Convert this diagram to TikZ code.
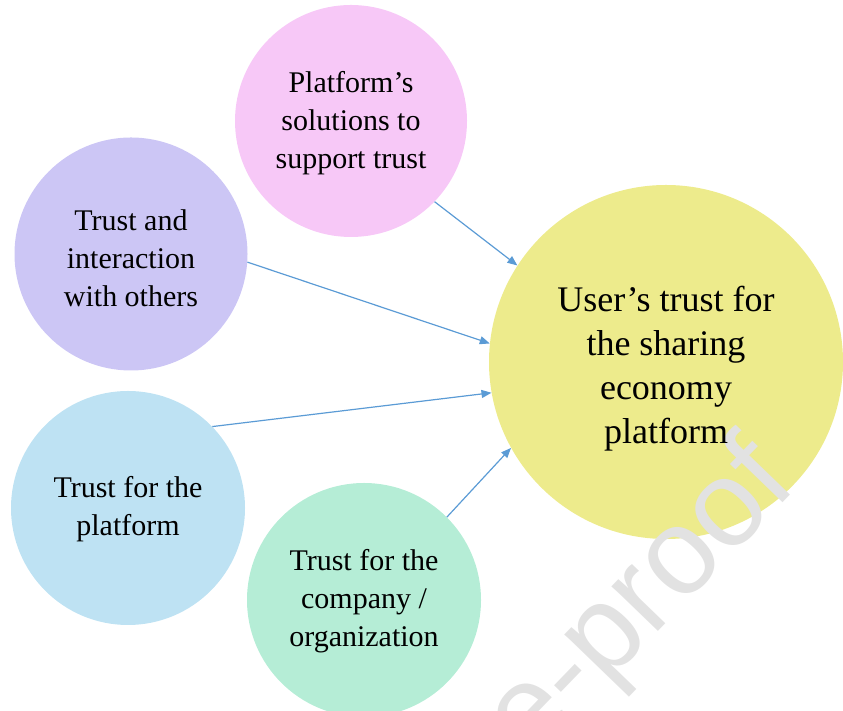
\documentclass[tikz,border=0pt]{standalone}
\usepackage{fontspec}
\setmainfont{Liberation Serif}
\newfontfamily\wmfont{Liberation Sans}
\usetikzlibrary{arrows.meta}
\definecolor{cpink}{RGB}{247,200,247}
\definecolor{cpurple}{RGB}{204,198,245}
\definecolor{cblue}{RGB}{190,226,243}
\definecolor{cgreen}{RGB}{181,237,214}
\definecolor{cyellow}{RGB}{237,235,140}
\definecolor{carrow}{RGB}{91,155,213}
\definecolor{cwm}{RGB}{226,226,226}
\tikzset{
  bubble/.style={circle, inner sep=0pt},
  smalltext/.style={align=center, text=black, inner sep=0pt,
    font=\fontsize{30}{38}\selectfont},
  bigtext/.style={align=center, text=black, inner sep=0pt,
    font=\fontsize{36}{44}\selectfont},
  link/.style={draw=carrow, line width=1.2pt, -{Triangle[length=10pt,width=8pt]}}
}
\begin{document}
\begin{tikzpicture}[x=1pt,y=1pt]
\useasboundingbox (0,0) rectangle (843,711);
\clip (0,0) rectangle (843,711);
\node[bubble, fill=cpink, minimum size=232pt] (pink) at (351,590) {};
\node[bubble, fill=cpurple, minimum size=233pt] (purple) at (131,457) {};
\node[bubble, fill=cblue, minimum size=234pt] (blue) at (128,203) {};
\node[bubble, fill=cgreen, minimum size=234pt] (green) at (364,111) {};
\node[bubble, fill=cyellow, minimum size=354pt] (yellow) at (666,349) {};
\begin{scope}[blend group=multiply]
\node[text=cwm, rotate=46, font=\wmfont\fontsize{122}{122}\selectfont, inner sep=0pt] (wm) at (642,108) {e-proof};
\end{scope}
\node[smalltext] (pinkt) at ([yshift=-2pt]pink.center) {Platform’s\\solutions to\\support trust};
\node[smalltext] (purplet) at ([yshift=-4pt]purple.center) {Trust and\\interaction\\with others};
\node[smalltext] (bluet) at ([yshift=-1pt]blue.center) {Trust for the\\platform};
\node[smalltext] (greent) at ([yshift=-1pt]green.center) {Trust for the\\company /\\organization};
\node[bigtext] (yellowt) at ([yshift=-7pt]yellow.center) {User’s trust for\\the sharing\\economy\\platform};
\draw[link] (pink.-44) -- (yellow.147);
\draw[link] (purple.-4) -- (yellow.174);
\draw[link] (blue.44) -- (yellow.190);
\draw[link] (green.45) -- (yellow.209);
\end{tikzpicture}
\end{document}
